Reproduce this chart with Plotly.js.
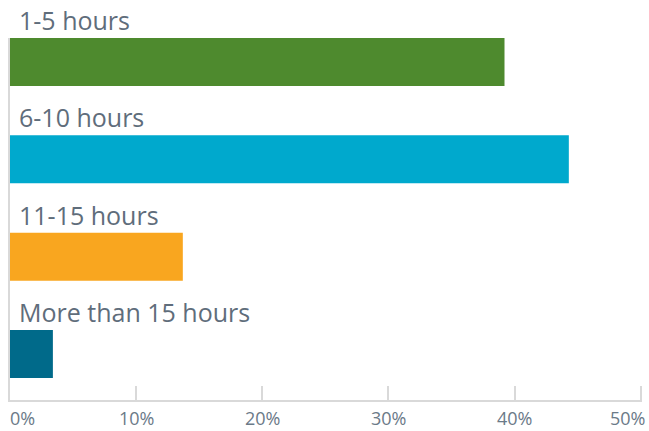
<!DOCTYPE html>
<html>
<head>
<meta charset="utf-8">
<script src="https://cdn.plot.ly/plotly-3.0.1.min.js"></script>
<style>html,body{margin:0;padding:0;background:#fff;}#chart{width:649px;height:431px;}</style>
</head>
<body>
<div id="chart"></div>
<script>
const categories = ["1-5 hours", "6-10 hours", "11-15 hours", "More than 15 hours"];
const values = [39.2, 44.3, 13.7, 3.4];
const barColors = ["#4e8a2e", "#00a9cd", "#f9a61f", "#006a8a"];
const tickVals = [0, 10, 20, 30, 40, 50];
const tickText = ["0%", "10%", "20%", "30%", "40%", "50%"];

const positions = categories.map((c, i) => i);

const trace = {
  type: "bar",
  orientation: "h",
  x: values,
  y: positions,
  width: 0.493,
  marker: {color: barColors},
  hoverinfo: "none"
};

const labelAnnotations = categories.map((c, i) => ({
  text: c,
  x: 0, y: i,
  xref: "x", yref: "y",
  xanchor: "left", yanchor: "middle",
  xshift: 7, yshift: 42,
  showarrow: false,
  font: {family: "Open Sans, sans-serif", size: 25, color: "#5f6d7b"}
}));

const last = tickVals.length - 1;
const tickAnnotations = tickVals.map((v, i) => ({
  text: tickText[i],
  x: v, y: 0,
  xref: "x", yref: "paper",
  xanchor: i === 0 ? "left" : (i === last ? "right" : "center"),
  yanchor: "middle",
  xshift: i === 0 ? -2 : (i === last ? 6 : 0),
  yshift: -18,
  showarrow: false,
  font: {family: "Open Sans, sans-serif", size: 18, color: "#6b7a88"}
}));

const layout = {
  width: 649, height: 431,
  margin: {l: 10, r: 7, t: 38, b: 31},
  paper_bgcolor: "#fff", plot_bgcolor: "#fff",
  showlegend: false,
  xaxis: {
    range: [0, 50.1],
    tickvals: tickVals, showticklabels: false,
    ticks: "inside", ticklen: 14, tickwidth: 2, tickcolor: "#d9d9d9",
    showgrid: false, zeroline: false,
    showline: true, linecolor: "#d9d9d9", linewidth: 2,
    fixedrange: true
  },
  yaxis: {
    range: [3.473, -0.247],
    showticklabels: false, ticks: "",
    showgrid: false, zeroline: false,
    showline: true, linecolor: "#d9d9d9", linewidth: 2,
    fixedrange: true
  },
  annotations: labelAnnotations.concat(tickAnnotations)
};

Plotly.newPlot("chart", [trace], layout, {displayModeBar: false, staticPlot: true});
</script>
</body>
</html>
